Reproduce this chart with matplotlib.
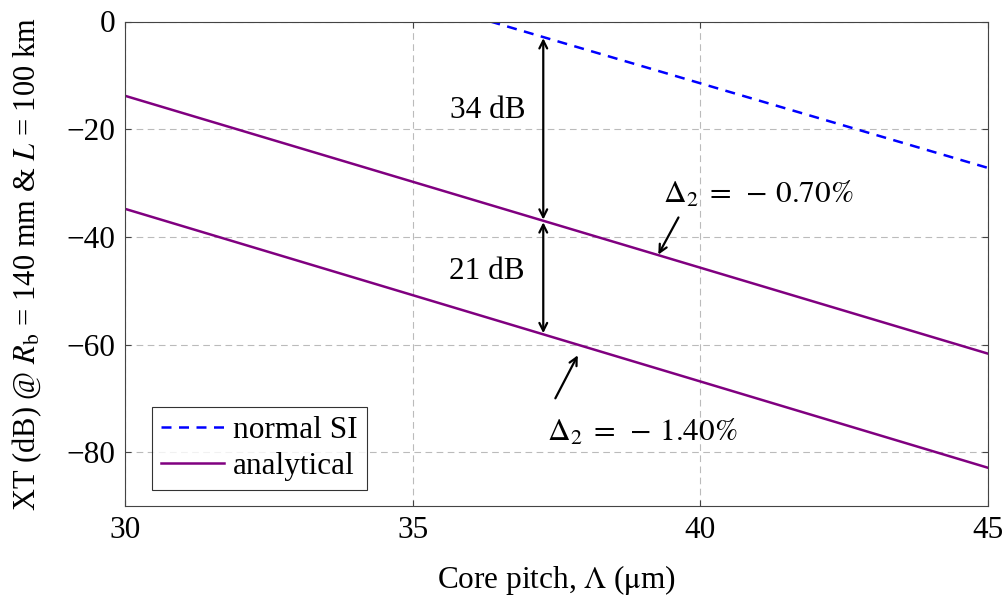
import numpy as np
import matplotlib.pyplot as plt

plt.rcParams['font.family'] = ['Liberation Serif', 'DejaVu Serif']
plt.rcParams['mathtext.fontset'] = 'stix'

# data
si_x = [36.35, 45]
si_y = [0, -27.2]
an1_x = [30, 45]
an1_y = [-13.8, -61.7]
an2_x = [30, 45]
an2_y = [-34.8, -82.9]

arrow_x = 37.27
gap_top = [-3.1, -36.8]
gap_bot = [-37.3, -57.9]

fs = 22.5
fig = plt.figure(figsize=(10.08, 5.99), dpi=100)
ax = fig.add_axes([125/1008, 1 - 506/599, (988-125)/1008, (506-21.5)/599])

ax.plot(si_x, si_y, '--', color='blue', lw=1.8, dashes=(4, 3), label='normal SI')
ax.plot(an1_x, an1_y, '-', color='purple', lw=1.8, label='analytical')
ax.plot(an2_x, an2_y, '-', color='purple', lw=1.8)

arr = dict(arrowstyle='<->', color='black', lw=1.6, shrinkA=0, shrinkB=0, mutation_scale=14)
ax.annotate('', xy=(arrow_x, gap_top[0]), xytext=(arrow_x, gap_top[1]), arrowprops=arr)
ax.annotate('', xy=(arrow_x, gap_bot[0]), xytext=(arrow_x, gap_bot[1]), arrowprops=arr)
ax.text(36.3, -16.6, '34 dB', fontsize=fs, ha='center', va='center')
ax.text(36.28, -46.5, '21 dB', fontsize=fs, ha='center', va='center')

arr2 = dict(arrowstyle='->', color='black', lw=1.6, shrinkA=0, shrinkB=0, mutation_scale=14)
ax.annotate('', xy=(39.27, -43.3), xytext=(39.62, -36.4), arrowprops=arr2)
ax.text(41.0, -32.2, r'$\Delta_2 \;=\; -\, 0.70\%$', fontsize=fs, ha='center', va='center')
ax.annotate('', xy=(37.87, -62.0), xytext=(37.48, -70.0), arrowprops=arr2)
ax.text(39.0, -76.4, r'$\Delta_2 \;=\; -\, 1.40\%$', fontsize=fs, ha='center', va='center')

ax.set_xlim(30, 45)
ax.set_ylim(-90, 0)
ax.set_xticks([30, 35, 40, 45])
ax.set_yticks([0, -20, -40, -60, -80])
ax.set_yticklabels(['0', '\u221220', '\u221240', '\u221260', '\u221280'])
ax.tick_params(direction='in', top=True, right=True, labelsize=fs, length=4, color='#444444', pad=7)
ax.grid(True, color='#bbbbbb', linestyle=(0, (6, 4)), lw=0.8)
for s in ax.spines.values():
    s.set_color('#444444')

ax.set_xlabel(r'Core pitch, $\Lambda$ ($\mathrm{\mu}$m)', fontsize=fs, labelpad=13)
ax.set_ylabel(r'XT (dB) @ $R_\mathrm{b}$ = 140 mm & $L$ = 100 km', fontsize=22, labelpad=16)

leg = ax.legend(loc='lower left', bbox_to_anchor=(27/863, 16/484.5), fontsize=fs,
                fancybox=False, edgecolor='black', borderaxespad=0,
                handlelength=2.0, handletextpad=0.3, borderpad=0.3, labelspacing=0.2)
leg.get_frame().set_linewidth(0.8)

fig.savefig('out.png', dpi=100)
